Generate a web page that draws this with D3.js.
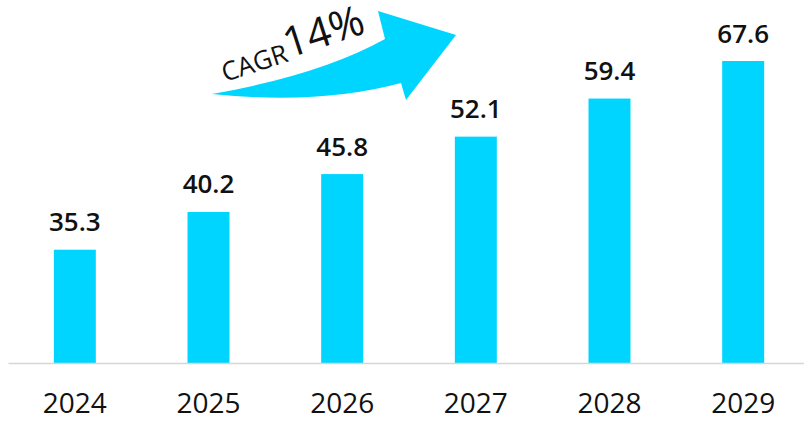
<!DOCTYPE html>
<html>
<head>
<meta charset="utf-8">
<script src="https://cdn.jsdelivr.net/npm/d3@7"></script>
<style>
  body { margin: 0; background: #fff; }
  text { font-family: "Open Sans", sans-serif; }
</style>
</head>
<body>
<script>
var WIDTH = 804;
var HEIGHT = 421;

// data
var years = ["2024", "2025", "2026", "2027", "2028", "2029"];
var values = [35.3, 40.2, 45.8, 52.1, 59.4, 67.6];
var cagrLabel = "CAGR";
var cagrValue = "14%";

var BLUE = "#00d5ff";

var svg = d3.select("body")
  .append("svg")
  .attr("width", WIDTH)
  .attr("height", HEIGHT);

var x = d3.scaleBand()
  .domain(years)
  .range([8, 810])
  .paddingInner(0.686)
  .paddingOuter(0.343);

// bars grow by equal steps for equal growth, so the value axis is logarithmic
var y = d3.scaleLog()
  .domain([23.9, 67.6])
  .range([363, 61]);

var rows = years.map(function (yr, i) {
  return { year: yr, value: values[i] };
});

svg.selectAll("rect.bar")
  .data(rows)
  .enter()
  .append("rect")
  .attr("class", "bar")
  .attr("x", function (d) { return x(d.year); })
  .attr("y", function (d) { return y(d.value); })
  .attr("width", x.bandwidth())
  .attr("height", function (d) { return y.range()[0] - y(d.value); })
  .style("fill", BLUE);

svg.selectAll("text.val")
  .data(rows)
  .enter()
  .append("text")
  .attr("class", "val")
  .attr("x", function (d) { return x(d.year) + x.bandwidth() / 2; })
  .attr("y", function (d) { return y(d.value) - 18.5; })
  .attr("text-anchor", "middle")
  .style("font-size", "26px")
  .style("font-weight", 600)
  .style("fill", "#111")
  .text(function (d) { return d.value.toFixed(1); });

var axis = svg.append("g")
  .attr("transform", "translate(0," + y.range()[0] + ")")
  .call(d3.axisBottom(x).tickSize(0).tickSizeOuter(0).tickPadding(30.5));

axis.select(".domain")
  .attr("stroke", "#d6d6d6")
  .attr("stroke-width", 1.5);

axis.selectAll("text")
  .style("font-size", "28px")
  .style("font-family", "'Open Sans', sans-serif")
  .style("fill", "#111");

// curved CAGR arrow
var arrow = d3.path();
arrow.moveTo(212, 94);
arrow.quadraticCurveTo(320, 75, 385, 39);
arrow.lineTo(378, 11);
arrow.lineTo(456, 35);
arrow.lineTo(406, 100);
arrow.lineTo(401, 83);
arrow.quadraticCurveTo(320, 105, 212, 94);
arrow.closePath();

svg.append("path")
  .attr("d", arrow.toString())
  .style("fill", BLUE);

var cagr = svg.append("text")
  .attr("transform", "translate(225,82) rotate(-18)")
  .style("fill", "#111");

cagr.append("tspan")
  .style("font-size", "26px")
  .text(cagrLabel);

cagr.append("tspan")
  .attr("dy", -3)
  .style("font-size", "42px")
  .style("font-weight", 400)
  .text(cagrValue);
</script>
</body>
</html>
